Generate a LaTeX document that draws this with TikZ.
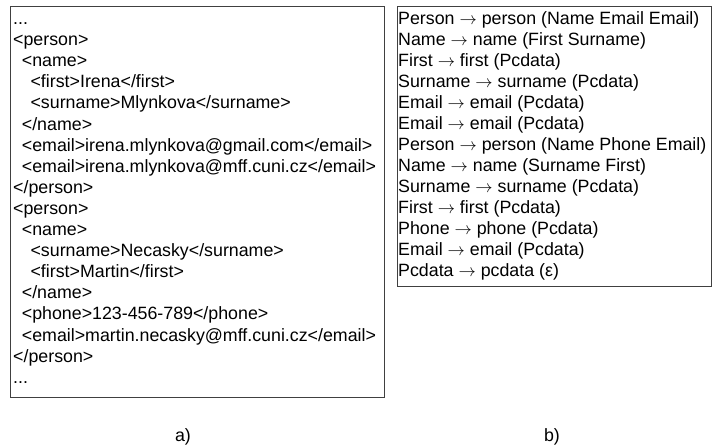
\documentclass[tikz,border=0pt]{standalone}
\usepackage{fontspec}
\setmainfont{Liberation Sans}
% thin production arrow
\newcommand{\yields}{\ensuremath{\rightarrow}}
\begin{document}
\begin{tikzpicture}[x=1pt,y=-1pt,
  txt/.style={anchor=base west, inner sep=0pt, font=\fontsize{17.8}{21}\selectfont},
  captext/.style={anchor=base, inner sep=0pt, font=\fontsize{17.8}{21}\selectfont},
  frame/.style={draw=black!75, line width=1pt}]
\useasboundingbox (0,0) rectangle (714,447);

% a) XML document
\node[frame, inner sep=0pt, minimum width=374pt, minimum height=391pt, anchor=north west] (docbox) at (10,6) {};
\node[txt] (d0)  at (13.0, 24.5)  {...};
\node[txt] (d1)  at (13.0, 45.6)  {<person>};
\node[txt] (d2)  at (21.7, 66.7)  {<name>};
\node[txt] (d3)  at (30.4, 87.8)  {<first>Irena</first>};
\node[txt] (d4)  at (30.4, 108.9) {<surname>Mlynkova</surname>};
\node[txt] (d5)  at (21.7, 130.0) {</name>};
\node[txt] (d6)  at (21.7, 151.1) {<email>irena.mlynkova@gmail.com</email>};
\node[txt] (d7)  at (21.7, 172.2) {<email>irena.mlynkova@mff.cuni.cz</email>};
\node[txt] (d8)  at (13.0, 193.3) {</person>};
\node[txt] (d9)  at (13.0, 214.4) {<person>};
\node[txt] (d10) at (21.7, 235.5) {<name>};
\node[txt] (d11) at (30.4, 256.6) {<surname>Necasky</surname>};
\node[txt] (d12) at (30.4, 277.7) {<first>Martin</first>};
\node[txt] (d13) at (21.7, 298.8) {</name>};
\node[txt] (d14) at (21.7, 319.9) {<phone>123-456-789</phone>};
\node[txt] (d15) at (21.7, 341.0) {<email>martin.necasky@mff.cuni.cz</email>};
\node[txt] (d16) at (13.0, 362.1) {</person>};
\node[txt] (d17) at (13.0, 383.2) {...};

% b) grammar rules
\node[frame, inner sep=0pt, minimum width=314pt, minimum height=280pt, anchor=north west] (rulebox) at (397,6) {};
\node[txt] (r0)  at (398, 24)  {Person \yields{} person (Name Email Email)};
\node[txt] (r1)  at (398, 45)  {Name \yields{} name (First Surname)};
\node[txt] (r2)  at (398, 66)  {First \yields{} first (Pcdata)};
\node[txt] (r3)  at (398, 87)  {Surname \yields{} surname (Pcdata)};
\node[txt] (r4)  at (398, 108) {Email \yields{} email (Pcdata)};
\node[txt] (r5)  at (398, 129) {Email \yields{} email (Pcdata)};
\node[txt] (r6)  at (398, 150) {Person \yields{} person (Name Phone Email)};
\node[txt] (r7)  at (398, 171) {Name \yields{} name (Surname First)};
\node[txt] (r8)  at (398, 192) {Surname \yields{} surname (Pcdata)};
\node[txt] (r9)  at (398, 213) {First \yields{} first (Pcdata)};
\node[txt] (r10) at (398, 234) {Phone \yields{} phone (Pcdata)};
\node[txt] (r11) at (398, 255) {Email \yields{} email (Pcdata)};
\node[txt] (r12) at (398, 276) {Pcdata \yields{} pcdata (ε)};

% captions
\node[captext] (capa) at (183, 441) {a)};
\node[captext] (capb) at (552, 441) {b)};
\end{tikzpicture}
\end{document}
